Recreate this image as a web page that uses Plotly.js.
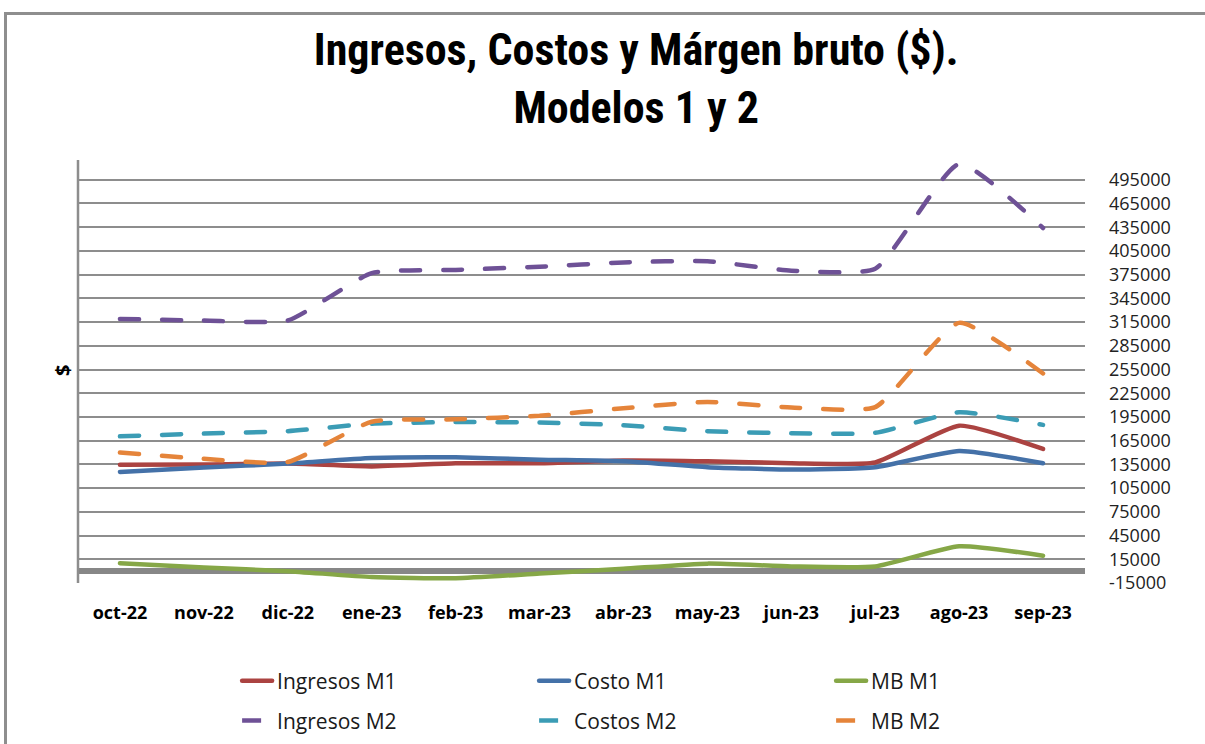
<!DOCTYPE html>
<html>
<head>
<meta charset="utf-8">
<script src="https://cdn.plot.ly/plotly-3.0.1.min.js"></script>
<style>
  html, body { margin: 0; padding: 0; background: #ffffff; }
  #chart { position: absolute; left: 0; top: 0; width: 1205px; height: 744px; }
  #frame { position: absolute; left: 4px; top: 12px; width: 1210px; height: 740px;
           border-top: 3px solid #8e8e8e; border-left: 3px solid #8e8e8e;
           pointer-events: none; z-index: 10; }
  .scatterlayer .js-line, .legend .js-line { stroke-linecap: round; stroke-linejoin: round; }
</style>
</head>
<body>
<div id="chart"></div>
<div id="frame"></div>
<script>
const categories = ['oct-22','nov-22','dic-22','ene-23','feb-23','mar-23','abr-23','may-23','jun-23','jul-23','ago-23','sep-23'];

const ingresosM1 = [134500, 135000, 136000, 132500, 136500, 136500, 140000, 139000, 136500, 137500, 184000, 154500];
const costoM1    = [125500, 131000, 136000, 143000, 144000, 141000, 139000, 131500, 128500, 131500, 152000, 136500];
const mbM1       = [10000, 4500, 0, -7500, -9000, -3000, 3000, 9500, 6000, 6000, 31500, 19500];

const ingresosM2 = [319000, 317000, 317000, 377000, 381000, 385000, 390500, 392000, 380000, 382500, 515000, 434000];
const costosM2   = [170500, 174000, 177000, 186500, 188500, 188000, 184500, 177000, 174500, 175000, 201000, 185000];
const mbM2       = [150000, 142000, 138000, 189000, 192000, 196500, 206000, 214000, 207000, 207500, 314000, 250000];

const yTickVals = [-15000, 15000, 45000, 75000, 105000, 135000, 165000, 195000, 225000, 255000,
                   285000, 315000, 345000, 375000, 405000, 435000, 465000, 495000];
const yTickText = ['-15000', '15000', '45000', '75000', '105000', '135000', '165000', '195000', '225000', '255000',
                   '285000', '315000', '345000', '375000', '405000', '435000', '465000', '495000'];

const seriesNames = ['Ingresos M1', 'Costo M1', 'MB M1', 'Ingresos M2', 'Costos M2', 'MB M2'];

const baseFont = 'Open Sans, Lato, Liberation Sans, sans-serif';
const titleFont = 'Liberation Sans Narrow, Roboto Condensed, Liberation Sans, sans-serif';
const dashStyle = '19px,23px';

function mk(name, y, color, dashed, legendId) {
  return {
    type: 'scatter', mode: 'lines', name: name, x: categories, y: y,
    legend: legendId,
    line: { color: color, width: 4.5, dash: dashed ? dashStyle : 'solid', shape: 'spline', smoothing: 0.5 },
    hoverinfo: 'x+y+name'
  };
}

const data = [
  mk(seriesNames[0], ingresosM1, '#ab4341', false, 'legend'),
  mk(seriesNames[1], costoM1, '#4471a8', false, 'legend'),
  mk(seriesNames[2], mbM1, '#86a747', false, 'legend'),
  mk(seriesNames[3], ingresosM2, '#6e5196', true, 'legend2'),
  mk(seriesNames[4], costosM2, '#3b9cb5', true, 'legend2'),
  mk(seriesNames[5], mbM2, '#e5843a', true, 'legend2')
];

const legendCommon = {
  orientation: 'h', xanchor: 'left', yanchor: 'middle',
  entrywidth: 252, entrywidthmode: 'pixels',
  bgcolor: 'rgba(0,0,0,0)', borderwidth: 0,
  font: { family: baseFont, size: 21, color: '#1a1a1a' }
};

const layout = {
  width: 1205, height: 744,
  paper_bgcolor: '#ffffff', plot_bgcolor: '#ffffff',
  margin: { l: 78, r: 120, t: 160, b: 161, pad: 0, autoexpand: false },
  title: {
    text: '<b>Ingresos, Costos y Márgen bruto ($).</b><br><b>Modelos 1 y 2</b>',
    font: { family: titleFont, size: 44, color: '#000000' },
    xref: 'container', x: 0.528, xanchor: 'center',
    yref: 'container', y: 0.912, yanchor: 'top'
  },
  showlegend: true,
  legend: Object.assign({}, legendCommon, { x: 0.158, y: -0.232 }),
  legend2: Object.assign({}, legendCommon, { x: 0.158, y: -0.326 }),
  xaxis: {
    type: 'category', range: [-0.5, 11.5],
    showgrid: false, zeroline: false, showline: false, ticks: '',
    tickfont: { family: baseFont, size: 18, color: '#000000', weight: 'bold' },
    ticklabelstandoff: 17, fixedrange: true
  },
  yaxis: {
    side: 'right', range: [-15000, 520000],
    tickmode: 'array', tickvals: yTickVals, ticktext: yTickText,
    showgrid: true, gridcolor: '#8d8d8d', gridwidth: 2,
    zeroline: true, zerolinecolor: '#878787', zerolinewidth: 6,
    showline: false, ticks: '',
    tickfont: { family: baseFont, size: 18, color: '#222222' },
    ticklabelstandoff: 23, fixedrange: true
  },
  shapes: [
    { type: 'line', xref: 'paper', yref: 'paper', x0: 0, x1: 0, y0: 0, y1: 1,
      line: { color: '#8d8d8d', width: 2.5 } }
  ],
  annotations: [
    { text: '<b>$</b>', xref: 'paper', yref: 'paper', x: -0.016, y: 0.503,
      xanchor: 'center', yanchor: 'middle', showarrow: false, textangle: -90,
      font: { family: baseFont, size: 20, color: '#000000' } }
  ]
};

Plotly.newPlot('chart', data, layout, { displayModeBar: false, staticPlot: false });
</script>
</body>
</html>
